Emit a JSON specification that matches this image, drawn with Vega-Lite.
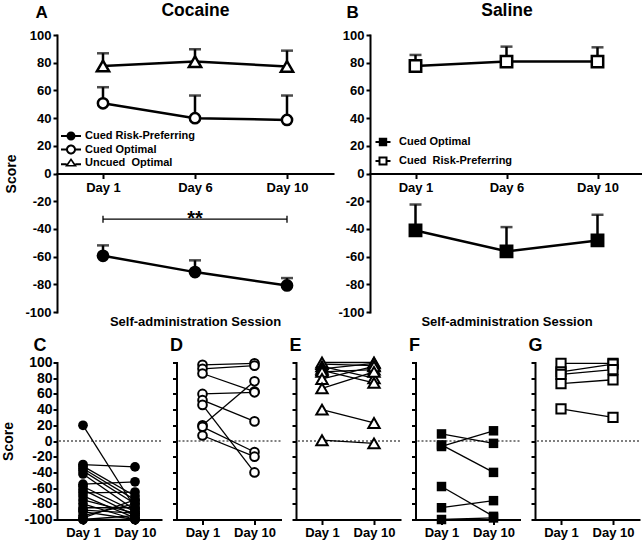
{
  "$schema": "https://vega.github.io/schema/vega-lite/v6.json",
  "padding": {"left": 1, "top": 1, "right": 0, "bottom": 0},
  "config": {
    "font": "Liberation Sans",
    "view": {"stroke": null},
    "axis": {"domainColor": "black", "tickColor": "black", "labelColor": "black", "titleColor": "black", "domainWidth": 2, "tickWidth": 2, "labelFontWeight": "bold", "titleFontWeight": "bold", "labelFont": "Liberation Sans", "titleFont": "Liberation Sans", "grid": false, "labelOverlap": false, "labelBound": false, "labelFlush": false, "domainCap": "square"},
    "legend": {"labelFont": "Liberation Sans", "labelColor": "black", "labelFontWeight": "bold"}
  },
  "datasets": {
    "meansA": [
      {"group": "Uncued Optimal", "day": "Day 1", "mean": 77.6, "upper": 86.8},
      {"group": "Uncued Optimal", "day": "Day 6", "mean": 80.8, "upper": 89.7},
      {"group": "Uncued Optimal", "day": "Day 10", "mean": 77.3, "upper": 88.7},
      {"group": "Cued Optimal", "day": "Day 1", "mean": 50.7, "upper": 62.3},
      {"group": "Cued Optimal", "day": "Day 6", "mean": 39.9, "upper": 56.3},
      {"group": "Cued Optimal", "day": "Day 10", "mean": 38.7, "upper": 56.3},
      {"group": "Cued Risk-Preferring", "day": "Day 1", "mean": -59.4, "upper": -51.9},
      {"group": "Cued Risk-Preferring", "day": "Day 6", "mean": -71.2, "upper": -62.7},
      {"group": "Cued Risk-Preferring", "day": "Day 10", "mean": -80.8, "upper": -75.5}
    ],
    "meansB": [
      {"group": "Cued Risk-Preferring", "day": "Day 1", "mean": 77.6, "upper": 85.6},
      {"group": "Cued Risk-Preferring", "day": "Day 6", "mean": 80.8, "upper": 91.6},
      {"group": "Cued Risk-Preferring", "day": "Day 10", "mean": 80.8, "upper": 91.1},
      {"group": "Cued Optimal", "day": "Day 1", "mean": -41.1, "upper": -22.4},
      {"group": "Cued Optimal", "day": "Day 6", "mean": -56.2, "upper": -38.7},
      {"group": "Cued Optimal", "day": "Day 10", "mean": -48.3, "upper": -29.8}
    ],
    "bracket": [{"from": "Day 1", "to": "Day 10", "y": -33}],
    "bracketEnds": [{"day": "Day 1", "y": -33}, {"day": "Day 10", "y": -33}],
    "stars": [{"day": "Day 6", "y": -33, "t": "**"}],
    "rats": [
      {"panel": "C", "rat": "c1", "day": "Day 1", "score": 20}, {"panel": "C", "rat": "c1", "day": "Day 10", "score": -85},
      {"panel": "C", "rat": "c2", "day": "Day 1", "score": -30}, {"panel": "C", "rat": "c2", "day": "Day 10", "score": -33},
      {"panel": "C", "rat": "c3", "day": "Day 1", "score": -32}, {"panel": "C", "rat": "c3", "day": "Day 10", "score": -70},
      {"panel": "C", "rat": "c4", "day": "Day 1", "score": -35}, {"panel": "C", "rat": "c4", "day": "Day 10", "score": -75},
      {"panel": "C", "rat": "c5", "day": "Day 1", "score": -38}, {"panel": "C", "rat": "c5", "day": "Day 10", "score": -80},
      {"panel": "C", "rat": "c6", "day": "Day 1", "score": -42}, {"panel": "C", "rat": "c6", "day": "Day 10", "score": -88},
      {"panel": "C", "rat": "c7", "day": "Day 1", "score": -55}, {"panel": "C", "rat": "c7", "day": "Day 10", "score": -52},
      {"panel": "C", "rat": "c8", "day": "Day 1", "score": -58}, {"panel": "C", "rat": "c8", "day": "Day 10", "score": -90},
      {"panel": "C", "rat": "c9", "day": "Day 1", "score": -62}, {"panel": "C", "rat": "c9", "day": "Day 10", "score": -95},
      {"panel": "C", "rat": "c10", "day": "Day 1", "score": -66}, {"panel": "C", "rat": "c10", "day": "Day 10", "score": -65},
      {"panel": "C", "rat": "c11", "day": "Day 1", "score": -70}, {"panel": "C", "rat": "c11", "day": "Day 10", "score": -98},
      {"panel": "C", "rat": "c12", "day": "Day 1", "score": -75}, {"panel": "C", "rat": "c12", "day": "Day 10", "score": -92},
      {"panel": "C", "rat": "c13", "day": "Day 1", "score": -80}, {"panel": "C", "rat": "c13", "day": "Day 10", "score": -100},
      {"panel": "C", "rat": "c14", "day": "Day 1", "score": -85}, {"panel": "C", "rat": "c14", "day": "Day 10", "score": -85},
      {"panel": "C", "rat": "c15", "day": "Day 1", "score": -90}, {"panel": "C", "rat": "c15", "day": "Day 10", "score": -100},
      {"panel": "C", "rat": "c16", "day": "Day 1", "score": -95}, {"panel": "C", "rat": "c16", "day": "Day 10", "score": -80},
      {"panel": "C", "rat": "c17", "day": "Day 1", "score": -100}, {"panel": "C", "rat": "c17", "day": "Day 10", "score": -95},
      {"panel": "C", "rat": "c18", "day": "Day 1", "score": -100}, {"panel": "C", "rat": "c18", "day": "Day 10", "score": -100},
      {"panel": "C", "rat": "c19", "day": "Day 1", "score": -98}, {"panel": "C", "rat": "c19", "day": "Day 10", "score": -75},
      {"panel": "C", "rat": "c20", "day": "Day 1", "score": -88}, {"panel": "C", "rat": "c20", "day": "Day 10", "score": -92},
      {"panel": "D", "rat": "d1", "day": "Day 1", "score": 97}, {"panel": "D", "rat": "d1", "day": "Day 10", "score": 99},
      {"panel": "D", "rat": "d2", "day": "Day 1", "score": 92}, {"panel": "D", "rat": "d2", "day": "Day 10", "score": 96},
      {"panel": "D", "rat": "d3", "day": "Day 1", "score": 86}, {"panel": "D", "rat": "d3", "day": "Day 10", "score": 63},
      {"panel": "D", "rat": "d4", "day": "Day 1", "score": 60}, {"panel": "D", "rat": "d4", "day": "Day 10", "score": 62},
      {"panel": "D", "rat": "d5", "day": "Day 1", "score": 52}, {"panel": "D", "rat": "d5", "day": "Day 10", "score": 25},
      {"panel": "D", "rat": "d6", "day": "Day 1", "score": 46}, {"panel": "D", "rat": "d6", "day": "Day 10", "score": -40},
      {"panel": "D", "rat": "d7", "day": "Day 1", "score": 20}, {"panel": "D", "rat": "d7", "day": "Day 10", "score": 76},
      {"panel": "D", "rat": "d8", "day": "Day 1", "score": 18}, {"panel": "D", "rat": "d8", "day": "Day 10", "score": -14},
      {"panel": "D", "rat": "d9", "day": "Day 1", "score": 7}, {"panel": "D", "rat": "d9", "day": "Day 10", "score": -20},
      {"panel": "E", "rat": "e1", "day": "Day 1", "score": 98}, {"panel": "E", "rat": "e1", "day": "Day 10", "score": 96},
      {"panel": "E", "rat": "e2", "day": "Day 1", "score": 100}, {"panel": "E", "rat": "e2", "day": "Day 10", "score": 100},
      {"panel": "E", "rat": "e3", "day": "Day 1", "score": 95}, {"panel": "E", "rat": "e3", "day": "Day 10", "score": 80},
      {"panel": "E", "rat": "e4", "day": "Day 1", "score": 92}, {"panel": "E", "rat": "e4", "day": "Day 10", "score": 99},
      {"panel": "E", "rat": "e5", "day": "Day 1", "score": 90}, {"panel": "E", "rat": "e5", "day": "Day 10", "score": 74},
      {"panel": "E", "rat": "e6", "day": "Day 1", "score": 88}, {"panel": "E", "rat": "e6", "day": "Day 10", "score": 91},
      {"panel": "E", "rat": "e7", "day": "Day 1", "score": 79}, {"panel": "E", "rat": "e7", "day": "Day 10", "score": 95},
      {"panel": "E", "rat": "e8", "day": "Day 1", "score": 67}, {"panel": "E", "rat": "e8", "day": "Day 10", "score": 88},
      {"panel": "E", "rat": "e9", "day": "Day 1", "score": 40}, {"panel": "E", "rat": "e9", "day": "Day 10", "score": 23},
      {"panel": "E", "rat": "e10", "day": "Day 1", "score": 1}, {"panel": "E", "rat": "e10", "day": "Day 10", "score": -3},
      {"panel": "F", "rat": "f1", "day": "Day 1", "score": 9}, {"panel": "F", "rat": "f1", "day": "Day 10", "score": -3},
      {"panel": "F", "rat": "f2", "day": "Day 1", "score": -7}, {"panel": "F", "rat": "f2", "day": "Day 10", "score": 13},
      {"panel": "F", "rat": "f3", "day": "Day 1", "score": -5}, {"panel": "F", "rat": "f3", "day": "Day 10", "score": -40},
      {"panel": "F", "rat": "f4", "day": "Day 1", "score": -58}, {"panel": "F", "rat": "f4", "day": "Day 10", "score": -96},
      {"panel": "F", "rat": "f5", "day": "Day 1", "score": -85}, {"panel": "F", "rat": "f5", "day": "Day 10", "score": -76},
      {"panel": "F", "rat": "f6", "day": "Day 1", "score": -100}, {"panel": "F", "rat": "f6", "day": "Day 10", "score": -98},
      {"panel": "G", "rat": "g1", "day": "Day 1", "score": 99}, {"panel": "G", "rat": "g1", "day": "Day 10", "score": 99},
      {"panel": "G", "rat": "g2", "day": "Day 1", "score": 88}, {"panel": "G", "rat": "g2", "day": "Day 10", "score": 98},
      {"panel": "G", "rat": "g3", "day": "Day 1", "score": 85}, {"panel": "G", "rat": "g3", "day": "Day 10", "score": 91},
      {"panel": "G", "rat": "g4", "day": "Day 1", "score": 73}, {"panel": "G", "rat": "g4", "day": "Day 10", "score": 78},
      {"panel": "G", "rat": "g5", "day": "Day 1", "score": 41}, {"panel": "G", "rat": "g5", "day": "Day 10", "score": 30}
    ]
  },
  "spacing": 7.5,
  "vconcat": [
    {
      "bounds": "flush",
      "spacing": 37,
      "hconcat": [
        {
          "width": 276, "height": 277,
          "resolve": {"axis": {"x": "independent"}, "scale": {"shape": "independent", "fill": "independent"}},
          "layer": [
            {
              "data": {"name": "meansA"},
              "mark": {"type": "rule", "strokeWidth": 2.5, "color": "black"},
              "encoding": {
                "x": {"field": "day", "type": "ordinal", "scale": {"type": "point", "domain": ["Day 1", "Day 6", "Day 10"], "padding": 0.5},
                  "axis": {"orient": "bottom", "offset": -138.5, "title": "Self-administration Session", "titleFontSize": 13, "titleY": 151.5, "titleBaseline": "alphabetic", "labelFontSize": 13, "labelAngle": 0, "labelPadding": 2.5, "tickSize": 5}},
                "y": {"field": "mean", "type": "quantitative", "scale": {"domain": [-100, 100], "nice": false, "zero": false},
                  "axis": {"values": [-100, -80, -60, -40, -20, 0, 20, 40, 60, 80, 100], "tickCount": 20, "labelOverlap": false, "labelFontSize": 13, "tickSize": 4, "labelPadding": 2, "title": "Score", "titleFontSize": 14, "titleX": -39, "titleY": 138.5, "labelExpr": "datum.value + ''"}},
                "y2": {"field": "upper"}
              }
            },
            {
              "data": {"name": "meansA"},
              "mark": {"type": "tick", "orient": "horizontal", "size": 12, "thickness": 2.5, "color": "black"},
              "encoding": {
                "x": {"field": "day", "type": "ordinal", "scale": {"type": "point", "domain": ["Day 1", "Day 6", "Day 10"], "padding": 0.5}, "axis": null},
                "y": {"field": "upper", "type": "quantitative", "title": "Score"}
              }
            },
            {
              "data": {"name": "meansA"},
              "mark": {"type": "line", "strokeWidth": 2.5, "color": "black"},
              "encoding": {
                "x": {"field": "day", "type": "ordinal", "scale": {"type": "point", "domain": ["Day 1", "Day 6", "Day 10"], "padding": 0.5}, "axis": null},
                "y": {"field": "mean", "type": "quantitative", "title": "Score"},
                "detail": {"field": "group"},
                "order": {"value": null}
              }
            },
            {
              "data": {"name": "meansA"},
              "mark": {"type": "point", "stroke": "black", "strokeWidth": 2.5, "opacity": 1},
              "encoding": {
                "x": {"field": "day", "type": "ordinal", "scale": {"type": "point", "domain": ["Day 1", "Day 6", "Day 10"], "padding": 0.5}, "axis": null},
                "y": {"field": "mean", "type": "quantitative", "title": "Score"},
                "shape": {"field": "group", "type": "nominal", "scale": {"domain": ["Cued Risk-Preferring", "Cued Optimal", "Uncued Optimal"], "range": ["circle", "circle", "triangle-up"]}, "legend": null},
                "fill": {"field": "group", "type": "nominal", "scale": {"domain": ["Cued Risk-Preferring", "Cued Optimal", "Uncued Optimal"], "range": ["black", "white", "white"]}, "legend": null},
                "size": {"condition": {"test": "datum.group == 'Uncued Optimal'", "value": 150}, "value": 105}
              }
            },
            {
              "data": {"name": "bracket"},
              "mark": {"type": "rule", "strokeWidth": 1.3, "color": "black"},
              "encoding": {
                "x": {"field": "from", "type": "ordinal", "scale": {"type": "point", "domain": ["Day 1", "Day 6", "Day 10"], "padding": 0.5},
                  "axis": {"orient": "top", "labels": false, "ticks": false, "domain": false, "title": "A", "titleFontSize": 17, "titleX": -22, "titleY": -18, "titleAlign": "left", "titleBaseline": "alphabetic"}},
                "x2": {"field": "to"},
                "y": {"field": "y", "type": "quantitative", "title": "Score"}
              }
            },
            {
              "data": {"name": "bracketEnds"},
              "mark": {"type": "point", "shape": "M0,-1L0,1", "size": 49, "strokeWidth": 1.3, "color": "black", "opacity": 1},
              "encoding": {
                "x": {"field": "day", "type": "ordinal", "scale": {"type": "point", "domain": ["Day 1", "Day 6", "Day 10"], "padding": 0.5}, "axis": null},
                "y": {"field": "y", "type": "quantitative", "title": "Score"}
              }
            },
            {
              "data": {"name": "stars"},
              "mark": {"type": "text", "fontSize": 20, "fontWeight": "bold", "baseline": "alphabetic", "dy": 6, "color": "black"},
              "encoding": {
                "x": {"field": "day", "type": "ordinal", "scale": {"type": "point", "domain": ["Day 1", "Day 6", "Day 10"], "padding": 0.5}, "axis": null},
                "y": {"field": "y", "type": "quantitative", "title": "Score"},
                "text": {"field": "t"}
              }
            },
            {
              "data": {"name": "meansA"},
              "transform": [{"filter": "datum.day == 'Day 1'"}],
              "mark": {"type": "point", "opacity": 0, "filled": true},
              "encoding": {
                "x": {"field": "day", "type": "ordinal", "scale": {"type": "point", "domain": ["Day 1", "Day 6", "Day 10"], "padding": 0.5},
                  "axis": {"orient": "top", "labels": false, "ticks": false, "domain": false, "title": "Cocaine", "titleFontSize": 17.5, "titleX": 138, "titleY": -20, "titleAlign": "center", "titleBaseline": "alphabetic"}},
                "y": {"field": "mean", "type": "quantitative", "title": "Score"},
                "shape": {"field": "group", "type": "nominal",
                  "scale": {"domain": ["Cued Risk-Preferring", "Cued Optimal", "Uncued Optimal"], "range": [
                    "M-1.667,-0.167H1.667V0.167H-1.667ZM0.75,0A0.75,0.75,0,1,1,-0.75,0A0.75,0.75,0,1,1,0.75,0Z",
                    "M-1.667,-0.167H-0.7V0.167H-1.667ZM0.7,-0.167H1.667V0.167H0.7ZM0.833,0A0.833,0.833,0,1,1,-0.833,0A0.833,0.833,0,1,1,0.833,0ZM0.5,0A0.5,0.5,0,1,0,-0.5,0A0.5,0.5,0,1,0,0.5,0Z",
                    "M-1.667,0.033H-0.72V0.367H-1.667ZM0.72,0.033H1.667V0.367H0.72ZM0,-0.85L1,0.6L-1,0.6ZM0,-0.357L-0.467,0.32L0.467,0.32Z"]},
                  "legend": {"orient": "none", "legendX": 8, "legendY": 95, "title": null, "labelFontSize": 11, "symbolSize": 144, "symbolStrokeWidth": 0, "symbolOpacity": 1, "rowPadding": 2.5, "labelOffset": 8, "padding": 0, "labelExpr": "datum.label == 'Uncued Optimal' ? 'Uncued\u00a0 Optimal' : datum.label"}},
                "fill": {"field": "group", "type": "nominal",
                  "scale": {"domain": ["Cued Risk-Preferring", "Cued Optimal", "Uncued Optimal"], "range": ["black", "black", "black"]},
                  "legend": {"orient": "none", "legendX": 8, "legendY": 95, "title": null, "labelFontSize": 11, "symbolSize": 144, "symbolStrokeWidth": 0, "symbolOpacity": 1, "rowPadding": 2.5, "labelOffset": 8, "padding": 0, "labelExpr": "datum.label == 'Uncued Optimal' ? 'Uncued\u00a0 Optimal' : datum.label"}}
              }
            }
          ]
        },
        {
          "width": 273, "height": 277,
          "resolve": {"axis": {"x": "independent"}, "scale": {"shape": "independent", "fill": "independent"}},
          "layer": [
            {
              "data": {"name": "meansB"},
              "mark": {"type": "rule", "strokeWidth": 2.5, "color": "black"},
              "encoding": {
                "x": {"field": "day", "type": "ordinal", "scale": {"type": "point", "domain": ["Day 1", "Day 6", "Day 10"], "padding": 0.5},
                  "axis": {"orient": "bottom", "offset": -138.5, "title": "Self-administration Session", "titleFontSize": 13, "titleY": 151.5, "titleBaseline": "alphabetic", "labelFontSize": 13, "labelAngle": 0, "labelPadding": 2.5, "tickSize": 5}},
                "y": {"field": "mean", "type": "quantitative", "scale": {"domain": [-100, 100], "nice": false, "zero": false},
                  "axis": {"values": [-100, -80, -60, -40, -20, 0, 20, 40, 60, 80, 100], "tickCount": 20, "labelOverlap": false, "labelFontSize": 13, "tickSize": 4, "labelPadding": 2, "title": "B", "titleAngle": 0, "titleFontSize": 17, "titleX": -24, "titleY": -18, "titleAlign": "left", "titleBaseline": "alphabetic", "labelExpr": "datum.value + ''"}},
                "y2": {"field": "upper"}
              }
            },
            {
              "data": {"name": "meansB"},
              "mark": {"type": "tick", "orient": "horizontal", "size": 12, "thickness": 2.5, "color": "black"},
              "encoding": {
                "x": {"field": "day", "type": "ordinal", "scale": {"type": "point", "domain": ["Day 1", "Day 6", "Day 10"], "padding": 0.5}, "axis": null},
                "y": {"field": "upper", "type": "quantitative", "title": "B"}
              }
            },
            {
              "data": {"name": "meansB"},
              "mark": {"type": "line", "strokeWidth": 2.5, "color": "black"},
              "encoding": {
                "x": {"field": "day", "type": "ordinal", "scale": {"type": "point", "domain": ["Day 1", "Day 6", "Day 10"], "padding": 0.5}, "axis": null},
                "y": {"field": "mean", "type": "quantitative", "title": "B"},
                "detail": {"field": "group"},
                "order": {"value": null}
              }
            },
            {
              "data": {"name": "meansB"},
              "mark": {"type": "point", "shape": "square", "size": 130, "stroke": "black", "strokeWidth": 2.5, "opacity": 1},
              "encoding": {
                "x": {"field": "day", "type": "ordinal", "scale": {"type": "point", "domain": ["Day 1", "Day 6", "Day 10"], "padding": 0.5}, "axis": null},
                "y": {"field": "mean", "type": "quantitative", "title": "B"},
                "fill": {"field": "group", "type": "nominal", "scale": {"domain": ["Cued Optimal", "Cued Risk-Preferring"], "range": ["black", "white"]}, "legend": null}
              }
            },
            {
              "data": {"name": "meansB"},
              "transform": [{"filter": "datum.day == 'Day 1'"}],
              "mark": {"type": "point", "opacity": 0, "filled": true},
              "encoding": {
                "x": {"field": "day", "type": "ordinal", "scale": {"type": "point", "domain": ["Day 1", "Day 6", "Day 10"], "padding": 0.5},
                  "axis": {"orient": "top", "labels": false, "ticks": false, "domain": false, "title": "Saline", "titleFontSize": 17.5, "titleX": 136.5, "titleY": -20, "titleAlign": "center", "titleBaseline": "alphabetic"}},
                "y": {"field": "mean", "type": "quantitative", "title": "B"},
                "shape": {"field": "group", "type": "nominal",
                  "scale": {"domain": ["Cued Optimal", "Cued Risk-Preferring"], "range": [
                    "M-1.25,-0.167H1.25V0.167H-1.25ZM-0.7,-0.7H0.7V0.7H-0.7Z",
                    "M-1.25,-0.167H-0.74V0.167H-1.25ZM0.74,-0.167H1.25V0.167H0.74ZM-0.75,-0.75H0.75V0.75H-0.75ZM-0.42,-0.42V0.42H0.42V-0.42Z"]},
                  "legend": {"orient": "none", "legendX": 7, "legendY": 101, "title": null, "labelFontSize": 11, "symbolSize": 144, "symbolStrokeWidth": 0, "symbolOpacity": 1, "rowPadding": 8, "labelOffset": 10, "padding": 0, "labelExpr": "datum.label == 'Cued Risk-Preferring' ? 'Cued\u00a0 Risk-Preferring' : datum.label"}},
                "fill": {"field": "group", "type": "nominal",
                  "scale": {"domain": ["Cued Optimal", "Cued Risk-Preferring"], "range": ["black", "black"]},
                  "legend": {"orient": "none", "legendX": 7, "legendY": 101, "title": null, "labelFontSize": 11, "symbolSize": 144, "symbolStrokeWidth": 0, "symbolOpacity": 1, "rowPadding": 8, "labelOffset": 10, "padding": 0, "labelExpr": "datum.label == 'Cued Risk-Preferring' ? 'Cued\u00a0 Risk-Preferring' : datum.label"}}
              }
            }
          ]
        }
      ]
    },
    {
      "bounds": "flush",
      "spacing": 15.5,
      "hconcat": [
        {
          "width": 104, "height": 157,
          "layer": [
            {"data": {"values": [{"y": 0}]}, "mark": {"type": "rule", "strokeDash": [2, 2], "strokeWidth": 1, "color": "black"},
             "encoding": {"y": {"field": "y", "type": "quantitative", "scale": {"domain": [-100, 100], "nice": false, "zero": false}, "title": "Score"}}},
            {"data": {"name": "rats"}, "transform": [{"filter": "datum.panel == 'C'"}],
             "mark": {"type": "line", "strokeWidth": 1.3, "color": "black"},
             "encoding": {
               "x": {"field": "day", "type": "ordinal", "scale": {"type": "point", "domain": ["Day 1", "Day 10"], "padding": 0.5},
                 "axis": {"title": "C", "titleX": -24, "titleY": -169.5, "titleAlign": "left", "titleBaseline": "alphabetic", "titleFontSize": 18, "labelAngle": 0, "labelFontSize": 13, "labelPadding": 2, "tickSize": 5}},
               "y": {"field": "score", "type": "quantitative", "scale": {"domain": [-100, 100], "nice": false, "zero": false},
                 "axis": {"values": [-100, -80, -60, -40, -20, 0, 20, 40, 60, 80, 100], "tickCount": 20, "labelOverlap": false, "labelFontSize": 14, "tickSize": 4, "labelPadding": 1, "title": "Score", "titleFontSize": 14, "titleX": -42, "titleY": 78.5, "labelExpr": "datum.value + ''"}},
               "detail": {"field": "rat"}
             }},
            {"data": {"name": "rats"}, "transform": [{"filter": "datum.panel == 'C'"}],
             "mark": {"type": "point", "shape": "circle", "filled": true, "size": 95, "color": "black", "opacity": 1},
             "encoding": {
               "x": {"field": "day", "type": "ordinal", "scale": {"type": "point", "domain": ["Day 1", "Day 10"], "padding": 0.5}, "title": "C"},
               "y": {"field": "score", "type": "quantitative", "title": "Score"}
             }}
          ]
        },
        {
          "width": 104, "height": 157,
          "layer": [
            {"data": {"values": [{"y": 0}]}, "mark": {"type": "rule", "strokeDash": [2, 2], "strokeWidth": 1, "color": "black"},
             "encoding": {"y": {"field": "y", "type": "quantitative", "scale": {"domain": [-100, 100], "nice": false, "zero": false}, "title": null}}},
            {"data": {"name": "rats"}, "transform": [{"filter": "datum.panel == 'D'"}],
             "mark": {"type": "line", "strokeWidth": 1.3, "color": "black"},
             "encoding": {
               "x": {"field": "day", "type": "ordinal", "scale": {"type": "point", "domain": ["Day 1", "Day 10"], "padding": 0.5},
                 "axis": {"title": "D", "titleX": -7, "titleY": -169.5, "titleAlign": "left", "titleBaseline": "alphabetic", "titleFontSize": 18, "labelAngle": 0, "labelFontSize": 13, "labelPadding": 2, "tickSize": 5}},
               "y": {"field": "score", "type": "quantitative", "scale": {"domain": [-100, 100], "nice": false, "zero": false},
                 "axis": {"values": [-100, -80, -60, -40, -20, 0, 20, 40, 60, 80, 100], "tickCount": 20, "labels": false, "tickSize": 4, "title": null}},
               "detail": {"field": "rat"}
             }},
            {"data": {"name": "rats"}, "transform": [{"filter": "datum.panel == 'D'"}],
             "mark": {"type": "point", "shape": "circle", "filled": true, "fill": "white", "stroke": "black", "strokeWidth": 2, "size": 75, "opacity": 1},
             "encoding": {
               "x": {"field": "day", "type": "ordinal", "scale": {"type": "point", "domain": ["Day 1", "Day 10"], "padding": 0.5}, "title": "D"},
               "y": {"field": "score", "type": "quantitative", "title": null}
             }}
          ]
        },
        {
          "width": 104, "height": 157,
          "layer": [
            {"data": {"values": [{"y": 0}]}, "mark": {"type": "rule", "strokeDash": [2, 2], "strokeWidth": 1, "color": "black"},
             "encoding": {"y": {"field": "y", "type": "quantitative", "scale": {"domain": [-100, 100], "nice": false, "zero": false}, "title": null}}},
            {"data": {"name": "rats"}, "transform": [{"filter": "datum.panel == 'E'"}],
             "mark": {"type": "line", "strokeWidth": 1.3, "color": "black"},
             "encoding": {
               "x": {"field": "day", "type": "ordinal", "scale": {"type": "point", "domain": ["Day 1", "Day 10"], "padding": 0.5},
                 "axis": {"title": "E", "titleX": -7, "titleY": -169.5, "titleAlign": "left", "titleBaseline": "alphabetic", "titleFontSize": 18, "labelAngle": 0, "labelFontSize": 13, "labelPadding": 2, "tickSize": 5}},
               "y": {"field": "score", "type": "quantitative", "scale": {"domain": [-100, 100], "nice": false, "zero": false},
                 "axis": {"values": [-100, -80, -60, -40, -20, 0, 20, 40, 60, 80, 100], "tickCount": 20, "labels": false, "tickSize": 4, "title": null}},
               "detail": {"field": "rat"}
             }},
            {"data": {"name": "rats"}, "transform": [{"filter": "datum.panel == 'E'"}],
             "mark": {"type": "point", "shape": "triangle-up", "filled": true, "fill": "white", "stroke": "black", "strokeWidth": 2, "size": 130, "opacity": 1},
             "encoding": {
               "x": {"field": "day", "type": "ordinal", "scale": {"type": "point", "domain": ["Day 1", "Day 10"], "padding": 0.5}, "title": "E"},
               "y": {"field": "score", "type": "quantitative", "title": null}
             }}
          ]
        },
        {
          "width": 104, "height": 157,
          "layer": [
            {"data": {"values": [{"y": 0}]}, "mark": {"type": "rule", "strokeDash": [2, 2], "strokeWidth": 1, "color": "black"},
             "encoding": {"y": {"field": "y", "type": "quantitative", "scale": {"domain": [-100, 100], "nice": false, "zero": false}, "title": null}}},
            {"data": {"name": "rats"}, "transform": [{"filter": "datum.panel == 'F'"}],
             "mark": {"type": "line", "strokeWidth": 1.3, "color": "black"},
             "encoding": {
               "x": {"field": "day", "type": "ordinal", "scale": {"type": "point", "domain": ["Day 1", "Day 10"], "padding": 0.5},
                 "axis": {"title": "F", "titleX": -7, "titleY": -169.5, "titleAlign": "left", "titleBaseline": "alphabetic", "titleFontSize": 18, "labelAngle": 0, "labelFontSize": 13, "labelPadding": 2, "tickSize": 5}},
               "y": {"field": "score", "type": "quantitative", "scale": {"domain": [-100, 100], "nice": false, "zero": false},
                 "axis": {"values": [-100, -80, -60, -40, -20, 0, 20, 40, 60, 80, 100], "tickCount": 20, "labels": false, "tickSize": 4, "title": null}},
               "detail": {"field": "rat"}
             }},
            {"data": {"name": "rats"}, "transform": [{"filter": "datum.panel == 'F'"}],
             "mark": {"type": "point", "shape": "square", "filled": true, "size": 90, "color": "black", "opacity": 1},
             "encoding": {
               "x": {"field": "day", "type": "ordinal", "scale": {"type": "point", "domain": ["Day 1", "Day 10"], "padding": 0.5}, "title": "F"},
               "y": {"field": "score", "type": "quantitative", "title": null}
             }}
          ]
        },
        {
          "width": 104, "height": 157,
          "layer": [
            {"data": {"values": [{"y": 0}]}, "mark": {"type": "rule", "strokeDash": [2, 2], "strokeWidth": 1, "color": "black"},
             "encoding": {"y": {"field": "y", "type": "quantitative", "scale": {"domain": [-100, 100], "nice": false, "zero": false}, "title": null}}},
            {"data": {"name": "rats"}, "transform": [{"filter": "datum.panel == 'G'"}],
             "mark": {"type": "line", "strokeWidth": 1.3, "color": "black"},
             "encoding": {
               "x": {"field": "day", "type": "ordinal", "scale": {"type": "point", "domain": ["Day 1", "Day 10"], "padding": 0.5},
                 "axis": {"title": "G", "titleX": -7, "titleY": -169.5, "titleAlign": "left", "titleBaseline": "alphabetic", "titleFontSize": 18, "labelAngle": 0, "labelFontSize": 13, "labelPadding": 2, "tickSize": 5}},
               "y": {"field": "score", "type": "quantitative", "scale": {"domain": [-100, 100], "nice": false, "zero": false},
                 "axis": {"values": [-100, -80, -60, -40, -20, 0, 20, 40, 60, 80, 100], "tickCount": 20, "labels": false, "tickSize": 4, "title": null}},
               "detail": {"field": "rat"}
             }},
            {"data": {"name": "rats"}, "transform": [{"filter": "datum.panel == 'G'"}],
             "mark": {"type": "point", "shape": "square", "filled": true, "fill": "white", "stroke": "black", "strokeWidth": 2, "size": 85, "opacity": 1},
             "encoding": {
               "x": {"field": "day", "type": "ordinal", "scale": {"type": "point", "domain": ["Day 1", "Day 10"], "padding": 0.5}, "title": "G"},
               "y": {"field": "score", "type": "quantitative", "title": null}
             }}
          ]
        }
      ]
    }
  ]
}
